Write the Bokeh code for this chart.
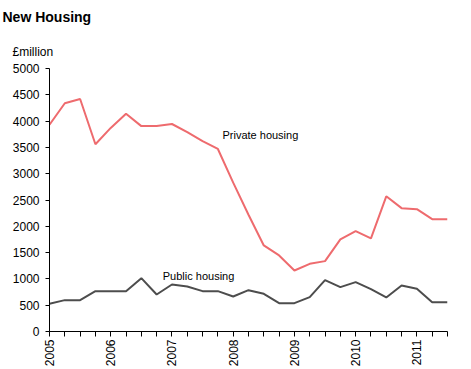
from bokeh.plotting import figure
from bokeh.models import FixedTicker, Label, Range1d, Title
from bokeh.embed import file_html
from bokeh.resources import INLINE
import math

# Quarterly data, 2005 Q1 .. 2011 Q3 (£million)
quarters = ["2005 Q1", "2005 Q2", "2005 Q3", "2005 Q4",
            "2006 Q1", "2006 Q2", "2006 Q3", "2006 Q4",
            "2007 Q1", "2007 Q2", "2007 Q3", "2007 Q4",
            "2008 Q1", "2008 Q2", "2008 Q3", "2008 Q4",
            "2009 Q1", "2009 Q2", "2009 Q3", "2009 Q4",
            "2010 Q1", "2010 Q2", "2010 Q3", "2010 Q4",
            "2011 Q1", "2011 Q2", "2011 Q3"]
private_housing = [3930, 4340, 4420, 3560, 3870, 4140, 3905, 3905,
                   3945, 3790, 3620, 3470, 2830, 2220, 1636, 1446,
                   1160, 1287, 1338, 1750, 1908, 1769, 2570, 2345,
                   2326, 2136, 2136]
public_housing = [526, 596, 596, 767, 767, 767, 1014, 704,
                  894, 856, 767, 767, 666, 786, 716, 539,
                  539, 653, 976, 843, 938, 805, 647, 875,
                  812, 557, 557]
year_labels = ["2005", "2006", "2007", "2008", "2009", "2010", "2011"]
y_ticks = [0, 500, 1000, 1500, 2000, 2500, 3000, 3500, 4000, 4500, 5000]

FONT = "Liberation Sans"
RED = "#EE6B6E"
GREY = "#4D4D4D"

xs = list(range(len(quarters)))

p = figure(width=471, height=369, output_backend="svg", toolbar_location=None,
           x_range=Range1d(0, len(quarters) - 1), y_range=Range1d(0, 5000),
           min_border_left=49, min_border_right=24, min_border_top=68,
           min_border_bottom=38)
p.title = None
p.outline_line_color = None
p.xgrid.grid_line_color = None
p.ygrid.grid_line_color = None
p.background_fill_color = "white"
p.border_fill_color = "white"

p.line(xs, private_housing, line_color=RED, line_width=2)
p.line(xs, public_housing, line_color=GREY, line_width=2)

# y axis
p.yaxis.ticker = FixedTicker(ticks=y_ticks)
p.yaxis.minor_tick_line_color = None
p.yaxis.major_tick_in = 0
p.yaxis.major_tick_out = 4
p.yaxis.major_label_standoff = 6
p.yaxis.major_label_text_font = FONT
p.yaxis.major_label_text_font_size = "12px"
p.yaxis.major_label_text_color = "black"
p.yaxis.axis_line_color = "black"
p.yaxis.major_tick_line_color = "black"

# x axis: ticks each quarter, labels each year
p.xaxis.ticker = FixedTicker(ticks=xs)
overrides = {}
for i in xs:
    overrides[i] = year_labels[i // 4] if i % 4 == 0 else ""
p.xaxis.major_label_overrides = overrides
p.xaxis.minor_tick_line_color = None
p.xaxis.major_tick_in = 0
p.xaxis.major_tick_out = 5
p.xaxis.major_label_standoff = 3
p.xaxis.major_label_orientation = math.pi / 2
p.xaxis.major_label_text_font = FONT
p.xaxis.major_label_text_font_size = "12px"
p.xaxis.major_label_text_color = "black"
p.xaxis.axis_line_color = "black"
p.xaxis.major_tick_line_color = "black"

# Series annotations
p.add_layout(Label(x=11.3, y=3730, text="Private housing", text_font=FONT,
                   text_font_size="11px", text_color="black",
                   text_baseline="alphabetic"))
p.add_layout(Label(x=7.4, y=1046, text="Public housing", text_font=FONT,
                   text_font_size="11px", text_color="black",
                   text_baseline="alphabetic"))

# Unit label (nearest the frame) and chart title (outermost)
p.add_layout(Title(text="£million", align="left", offset=-37, standoff=19,
                   vertical_align="bottom",
                   text_font=FONT, text_font_size="12px",
                   text_font_style="normal", text_color="black"), "above")
p.add_layout(Title(text="New Housing", align="left", offset=-47, standoff=13,
                   vertical_align="top",
                   text_font=FONT, text_font_size="14px",
                   text_font_style="bold", text_color="black"), "above")

open("out.html", "w").write(file_html(p, INLINE))
